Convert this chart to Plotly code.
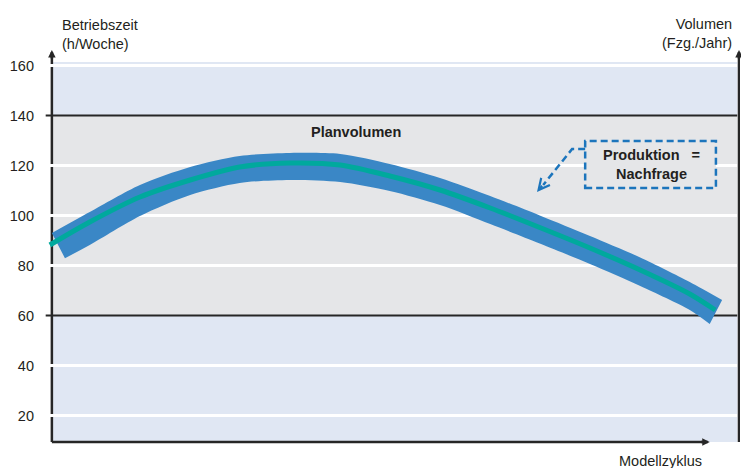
import plotly.graph_objects as go

# --- data -----------------------------------------------------------------
# Modellzyklus position (0..100) of the plan-volume centre line and band edges
center_x = [-0.3, 5.5, 12.8, 20.1, 27.3, 34.6, 41.9, 49.1, 56.4, 63.7, 70.9,
            78.2, 85.5, 92.7, 96.4]
center_y = [88.2, 97.4, 107.4, 114.2, 119.4, 121.0, 120.2, 115.8, 110.2, 103.0,
            95.2, 87.0, 78.2, 68.6, 62.2]

upper_x = [0.0, 5.5, 12.8, 20.1, 27.3, 34.6, 41.9, 49.1, 56.4, 63.7, 70.9,
           78.2, 85.5, 92.7, 97.4]
upper_y = [93.0, 101.4, 112.2, 119.4, 123.8, 125.0, 124.6, 120.6, 115.0, 107.8,
           100.0, 91.8, 83.2, 73.4, 66.2]

lower_x = [1.9, 5.5, 12.8, 20.1, 27.3, 34.6, 41.9, 49.1, 56.4, 63.7, 70.9,
           78.2, 85.5, 92.7, 95.6]
lower_y = [82.9, 88.2, 99.8, 108.2, 113.0, 114.2, 113.4, 109.8, 104.2, 96.6,
           88.8, 80.6, 71.8, 62.2, 56.6]

y_ticks = [20, 40, 60, 80, 100, 120, 140, 160]
white_grid = [20, 40, 80, 100, 120, 160]
dark_grid = [60, 140]
zone_edges = [9.4, 60, 140, 161.4]          # capacity zones: low / normal / high

# --- styling --------------------------------------------------------------
FONT = "Liberation Sans"
TXT = "#231F20"
BLUE = "#3A87C6"
TEAL = "#00A99D"
LIGHT_BLUE = "#E0E7F3"
GREY = "#E5E6E8"
DARK = "#262626"
DASH_BLUE = "#1C75BC"
FS = 14.5

X0, X_END, X_ARROW, X_RIGHT = 0, 99.6, 95.6, 99.85
Y_BOTTOM, Y_TOP = zone_edges[0], 166.2

fig = go.Figure()

# plan-volume band
fig.add_trace(go.Scatter(x=lower_x, y=lower_y, mode="lines",
                         line=dict(width=0, color=BLUE, shape="spline",
                                   smoothing=0.8),
                         hoverinfo="skip", showlegend=False))
fig.add_trace(go.Scatter(x=upper_x, y=upper_y, mode="lines", fill="tonexty",
                         fillcolor=BLUE,
                         line=dict(width=0, color=BLUE, shape="spline",
                                   smoothing=0.8),
                         hoverinfo="skip", showlegend=False))
# production = demand line
fig.add_trace(go.Scatter(x=center_x, y=center_y, mode="lines",
                         line=dict(width=5, color=TEAL, shape="spline",
                                   smoothing=0.8),
                         hoverinfo="skip", showlegend=False))

shapes = []
zone_colors = [LIGHT_BLUE, GREY, LIGHT_BLUE]
for (y0, y1), col in zip(zip(zone_edges[:-1], zone_edges[1:]), zone_colors):
    shapes.append(dict(type="rect", xref="x", yref="y", x0=X0, x1=X_END,
                       y0=y0, y1=y1, fillcolor=col, line=dict(width=0),
                       layer="below"))
# left axis line
shapes.append(dict(type="line", xref="x", yref="y", x0=X0, x1=X0,
                   y0=Y_BOTTOM, y1=Y_TOP - 1.5,
                   line=dict(color=DARK, width=2.5), layer="below"))
# white grid lines (cut through the axis)
for v in white_grid:
    shapes.append(dict(type="line", xref="x", yref="y", x0=-0.35, x1=X_END,
                       y0=v, y1=v, line=dict(color="white", width=3),
                       layer="below"))
for v in dark_grid:
    shapes.append(dict(type="line", xref="x", yref="y", x0=-0.9, x1=X_END,
                       y0=v, y1=v, line=dict(color=DARK, width=2),
                       layer="below"))
# right axis and x axis
shapes.append(dict(type="line", xref="x", yref="y", x0=X_RIGHT, x1=X_RIGHT,
                   y0=Y_BOTTOM, y1=Y_TOP - 1.5,
                   line=dict(color=DARK, width=2.5), layer="below"))
shapes.append(dict(type="line", xref="x", yref="y", x0=X0, x1=X_ARROW - 1,
                   y0=Y_BOTTOM, y1=Y_BOTTOM,
                   line=dict(color=DARK, width=2.5), layer="below"))

# callout box and dashed pointer
shapes.append(dict(type="rect", xref="x", yref="y", x0=77.5, x1=96.5,
                   y0=111.0, y1=129.8, fillcolor=GREY,
                   line=dict(color=DASH_BLUE, width=2.5, dash="7px,4px")))
shapes.append(dict(type="path", xref="x", yref="y",
                   path="M 77.5,126.6 L 75.6,126.6 L 71.4,112.2",
                   line=dict(color=DASH_BLUE, width=2.5, dash="7px,4px")))

annotations = []


def arrow_head(x, y, ax, ay, color=DARK, width=2.5, size=0.6, head=2):
    annotations.append(dict(x=x, y=y, xref="x", yref="y", ax=ax, ay=ay,
                            text="", showarrow=True, arrowhead=head,
                            arrowsize=size, arrowwidth=width,
                            arrowcolor=color, standoff=0, startstandoff=0))


arrow_head(X0, Y_TOP, 0, 10)
arrow_head(X_RIGHT, Y_TOP, 0, 10)
arrow_head(X_ARROW, Y_BOTTOM, -10, 0)
arrow_head(70.5, 109.4, 6.3, -7.8, color=DASH_BLUE, width=2.2, size=1.0, head=5)

annotations += [
    dict(text="Betriebszeit<br>(h/Woche)", xref="paper", yref="paper",
         x=0.0216, y=1.033, xanchor="left", yanchor="middle", align="left",
         showarrow=False, font=dict(family=FONT, size=FS, color=TXT)),
    dict(text="Volumen<br>(Fzg./Jahr)", xref="paper", yref="paper",
         x=0.991, y=1.035, xanchor="right", yanchor="middle", align="right",
         showarrow=False, font=dict(family=FONT, size=FS, color=TXT)),
    dict(text="Modellzyklus", xref="paper", yref="paper",
         x=0.886, y=-0.02, xanchor="center", yanchor="middle",
         showarrow=False, font=dict(family=FONT, size=FS, color=TXT)),
    dict(text="<b>Planvolumen</b>", xref="x", yref="y", x=44.2, y=133.4,
         showarrow=False, font=dict(family=FONT, size=FS, color=TXT)),
    dict(text="<b>Produktion\u00a0\u00a0\u00a0=<br>Nachfrage</b>",
         xref="x", yref="y", x=87.1, y=120.6, align="center",
         showarrow=False, font=dict(family=FONT, size=FS, color=TXT)),
]

fig.update_layout(
    width=741, height=468,
    margin=dict(l=45, r=1, t=48, b=15),
    paper_bgcolor="white", plot_bgcolor="white",
    shapes=shapes, annotations=annotations,
    xaxis=dict(range=[-1, 100], visible=False, fixedrange=True),
    yaxis=dict(range=[5, 167], tickvals=y_ticks,
               ticktext=[str(v) for v in y_ticks], ticks="",
               showgrid=False, zeroline=False, showline=False,
               ticklabelstandoff=10, automargin=False,
               tickfont=dict(family=FONT, size=FS, color=TXT)),
    showlegend=False,
)

fig.write_html("out.html")
